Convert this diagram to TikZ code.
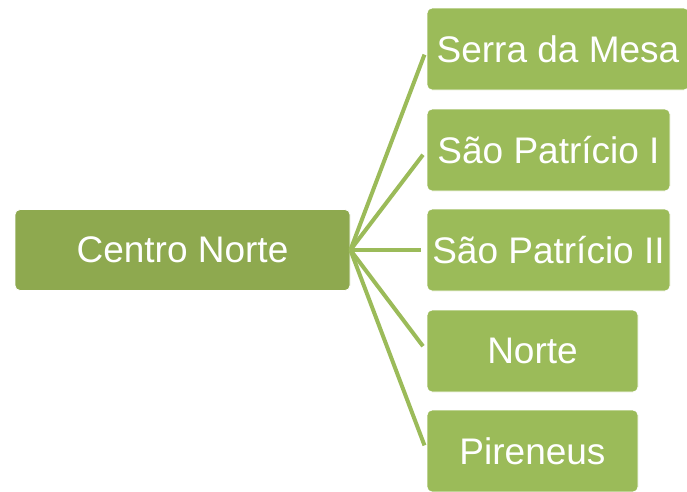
\documentclass[tikz,border=0pt]{standalone}
\usepackage{fontspec}
\setmainfont{Liberation Sans}
\definecolor{HubFill}{HTML}{8EA94F}
\definecolor{LeafFill}{HTML}{9BBB59}
\tikzset{
    hubbox/.style={
        rectangle, rounded corners=5pt, fill=HubFill, draw=white, line width=0.8pt,
        text=white, font=\fontsize{37}{44}\selectfont, inner sep=0pt,
        minimum width=335pt, minimum height=81pt
    },
    leafbox/.style={
        rectangle, rounded corners=5pt, fill=LeafFill, draw=white, line width=0.8pt,
        text=white, font=\fontsize{37}{44}\selectfont, inner sep=0pt,
        minimum height=82pt
    },
    link/.style={draw=LeafFill, line width=4pt, shorten >=6pt}
}

\begin{document}
\begin{tikzpicture}[x=1pt, y=-1pt]

\useasboundingbox (0,0) rectangle (687,491);

% Caixa central
\node[hubbox] (cn) at (182.5, 250) {Centro Norte};

% Caixas da direita
\node[leafbox, minimum width=262pt] (sm)  at (558, 49)  {Serra da Mesa};
\node[leafbox, minimum width=243pt] (sp1) at (548.5, 150) {São Patrício I};
\node[leafbox, minimum width=243pt] (sp2) at (548.5, 250) {São Patrício II};
\node[leafbox, minimum width=211pt] (no)  at (532.5, 351) {Norte};
\node[leafbox, minimum width=211pt] (pi)  at (532.5, 451) {Pireneus};

% Ligacoes, a partir do mesmo ponto
\draw[link] (cn.east) -- (sm.west);
\draw[link] (cn.east) -- (sp1.west);
\draw[link] (cn.east) -- (sp2.west);
\draw[link] (cn.east) -- (no.west);
\draw[link] (cn.east) -- (pi.west);

\end{tikzpicture}
\end{document}
